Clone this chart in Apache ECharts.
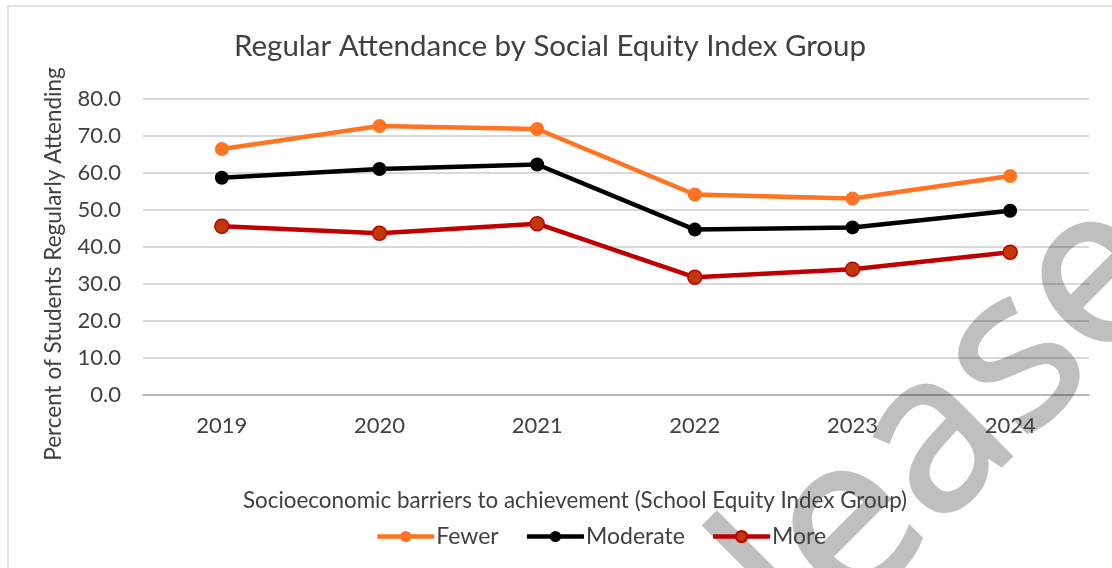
<!DOCTYPE html>
<html>
<head>
<meta charset="utf-8">
<script src="https://cdn.jsdelivr.net/npm/echarts@6/dist/echarts.min.js"></script>
<style>
html,body{margin:0;padding:0;background:#fff;}
#chart{width:1112px;height:568px;}
</style>
</head>
<body>
<div id="chart"></div>
<script>
const years = ['2019', '2020', '2021', '2022', '2023', '2024'];
const fewer = [66.5, 72.7, 71.9, 54.2, 53.1, 59.2];
const moderate = [58.7, 61.1, 62.3, 44.7, 45.3, 49.8];
const more = [45.6, 43.7, 46.3, 31.8, 34.0, 38.6];
const yTicks = { min: 0, max: 80, interval: 10 };

const FONT = 'Lato';
const TXT = '#404040';
const GRID_LINE = 'rgba(0,0,0,0.15)';

const chart = echarts.init(document.getElementById('chart'), null, { renderer: 'canvas' });

function lineSeries(name, data, color, markerFill) {
  return {
    name: name,
    type: 'line',
    data: data,
    symbol: 'circle',
    symbolSize: 14,
    showSymbol: true,
    lineStyle: { color: color, width: 4.5 },
    itemStyle: { color: markerFill, borderColor: color, borderWidth: markerFill === color ? 0 : 1.5 },
    emphasis: { disabled: true },
    animation: false,
    z: 3
  };
}

chart.setOption({
  animation: false,
  backgroundColor: '#fff',
  textStyle: { fontFamily: FONT },
  title: {
    text: 'Regular Attendance by Social Equity Index Group',
    left: 545, top: 26, textAlign: 'center',
    textStyle: { fontFamily: FONT, fontSize: 29.5, fontWeight: 'normal', color: TXT }
  },
  grid: { left: 143, right: 23, top: 99, bottom: 173, containLabel: false },
  legend: {
    data: ['Fewer', 'Moderate', 'More'],
    left: 375, top: 525, padding: 0,
    itemWidth: 57, itemHeight: 14, itemGap: 26,
    lineStyle: { width: 4.5 },
    textStyle: { fontFamily: FONT, fontSize: 23, color: TXT, padding: [0, 0, 0, -3] }
  },
  xAxis: {
    type: 'category',
    data: years,
    boundaryGap: true,
    z: 2,
    name: 'Socioeconomic barriers to achievement (School Equity Index Group)',
    nameLocation: 'middle', nameGap: 95,
    nameTextStyle: { fontFamily: FONT, fontSize: 22.4, color: TXT, padding: [0, 82, 0, 0] },
    axisLine: { show: true, lineStyle: { color: GRID_LINE, width: 2 } },
    axisTick: { show: false },
    axisLabel: { fontFamily: FONT, fontSize: 22, color: TXT, margin: 20 }
  },
  yAxis: {
    type: 'value',
    min: yTicks.min, max: yTicks.max, interval: yTicks.interval,
    z: 2,
    name: 'Percent of Students Regularly Attending',
    nameLocation: 'middle', nameGap: 78, nameRotate: 90,
    nameTextStyle: { fontFamily: FONT, fontSize: 22.5, color: TXT, padding: [0, 34, 0, 0] },
    axisLine: { show: false },
    axisTick: { show: false },
    splitLine: { lineStyle: { color: GRID_LINE, width: 2 } },
    axisLabel: { fontFamily: FONT, fontSize: 22, color: TXT, margin: 22,
      formatter: function (v) { return v.toFixed(1); } }
  },
  series: [
    lineSeries('Fewer', fewer, '#FF7422', '#FF7422'),
    lineSeries('Moderate', moderate, '#000000', '#000000'),
    lineSeries('More', more, '#C00000', '#C0390B')
  ],
  graphic: [
    {
      type: 'rect', silent: true, z: 0,
      shape: { x: 8, y: 6, width: 1200, height: 700 },
      style: { fill: 'none', stroke: '#d9d9d9', lineWidth: 1.5 }
    },
    {
      type: 'text', silent: true, z: 0,
      x: 765, y: 613, rotation: Math.PI / 4,
      style: {
        text: 'leased', fontFamily: 'Open Sans', fontSize: 221,
        fill: '#bfbfbf', stroke: '#bfbfbf', lineWidth: 3.5, lineJoin: 'round',
        align: 'left', verticalAlign: 'middle'
      }
    }
  ]
});
</script>
</body>
</html>
